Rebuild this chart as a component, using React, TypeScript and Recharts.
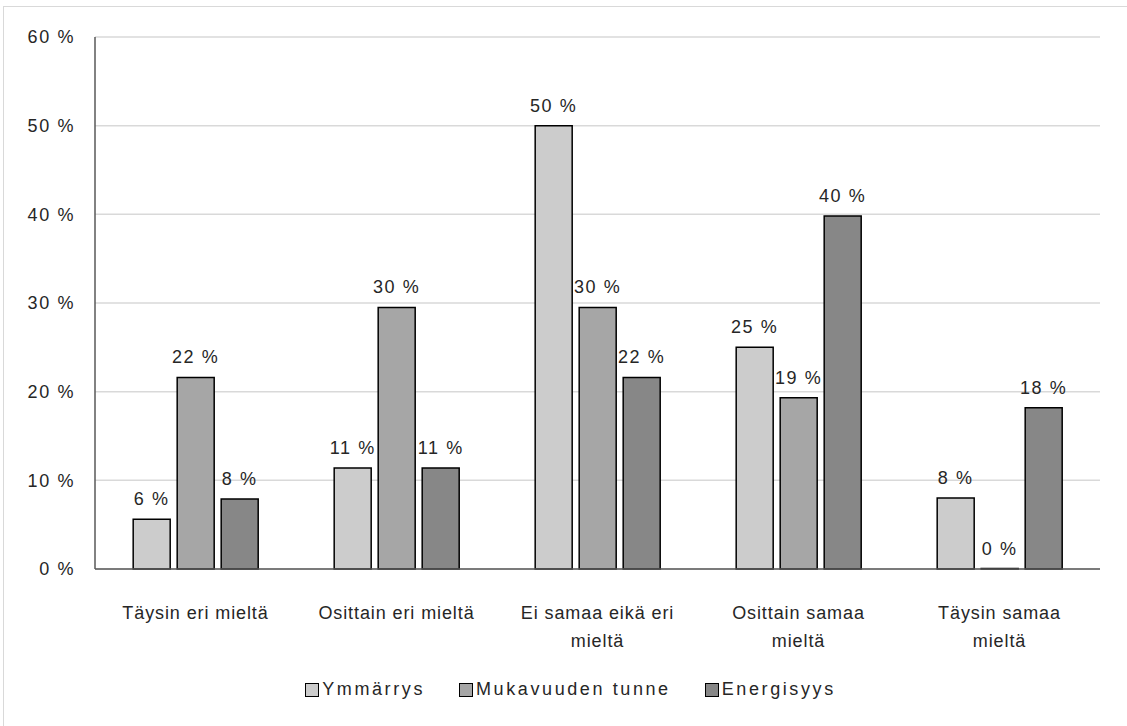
import React from "react";
import { BarChart, Bar, XAxis, YAxis, CartesianGrid, Legend, LabelList } from "recharts";

const categories = [
  ["Täysin eri mieltä"],
  ["Osittain eri mieltä"],
  ["Ei samaa eikä eri", "mieltä"],
  ["Osittain samaa", "mieltä"],
  ["Täysin samaa", "mieltä"],
];
const ymmarrys = [5.6, 11.4, 50, 25, 8];
const mukavuus = [21.6, 29.5, 29.5, 19.3, 0];
const energisyys = [7.9, 11.4, 21.6, 39.8, 18.2];
const yTicks = [0, 10, 20, 30, 40, 50, 60];

const series = [
  { key: "ymmarrys", name: "Ymmärrys", color: "#cccccc" },
  { key: "mukavuus", name: "Mukavuuden tunne", color: "#a6a6a6" },
  { key: "energisyys", name: "Energisyys", color: "#878787" },
];

const data = categories.map((lines, i) => ({
  cat: i,
  ymmarrys: ymmarrys[i],
  mukavuus: mukavuus[i],
  energisyys: energisyys[i],
}));

const font = "'Liberation Sans', Arial, sans-serif";
const textColor = "#262626";
const pct = (v: number) => `${Math.round(v)} %`;

function CatTick(props: any) {
  const { x, y, payload } = props;
  const lines = categories[payload.value] || [];
  return (
    <g>
      {lines.map((l, i) => (
        <text
          key={i}
          x={x}
          y={y + 36 + i * 28}
          textAnchor="middle"
          dominantBaseline="central"
          fontSize={18}
          letterSpacing={0.9}
          fontFamily={font}
          fill={textColor}
        >
          {l}
        </text>
      ))}
    </g>
  );
}

function LegendContent() {
  return (
    <div
      style={{
        display: "flex",
        justifyContent: "center",
        alignItems: "center",
        paddingTop: 30,
        paddingLeft: 37,
        fontFamily: font,
        fontSize: 18,
        letterSpacing: 2.6,
        color: textColor,
      }}
    >
      {series.map((s) => (
        <div key={s.key} style={{ display: "flex", alignItems: "center", margin: "0 17px" }}>
          <span
            style={{
              display: "inline-block",
              width: 12,
              height: 12,
              background: s.color,
              border: "1.5px solid #000",
              marginRight: 3,
            }}
          />
          <span>{s.name}</span>
        </div>
      ))}
    </div>
  );
}

export default function App() {
  return (
    <div
      style={{
        position: "absolute",
        left: 3,
        top: 6,
        width: 1136,
        height: 730,
        boxSizing: "border-box",
        border: "1.5px solid #d9d9d9",
        background: "#fff",
      }}
    >
      <BarChart
        width={1133}
        height={727}
        data={data}
        margin={{ top: 30, right: 37, left: 0, bottom: 0 }}
        barCategoryGap="19%"
        barGap={7}
      >
        <CartesianGrid vertical={false} stroke="#d9d9d9" strokeWidth={1.5} />
        <XAxis
          dataKey="cat"
          height={80}
          tick={<CatTick />}
          tickLine={false}
          axisLine={{ stroke: "#595959", strokeWidth: 1.5 }}
          interval={0}
        />
        <YAxis
          width={91}
          domain={[0, 60]}
          ticks={yTicks}
          tickFormatter={pct}
          tickLine={false}
          tickSize={0}
          tickMargin={20}
          axisLine={{ stroke: "#595959", strokeWidth: 1.5 }}
          tick={{ fontSize: 18, fontFamily: font, fill: textColor, letterSpacing: 1.6 }}
        />
        <Legend verticalAlign="bottom" height={85} content={<LegendContent />} />
        {series.map((s) => (
          <Bar
            key={s.key}
            dataKey={s.key}
            name={s.name}
            fill={s.color}
            stroke="#000"
            strokeWidth={1.5}
            minPointSize={(v: number) => (v === 0 ? 0.5 : 0)}
            isAnimationActive={false}
          >
            <LabelList
              dataKey={(d: any) => pct(d[s.key])}
              position="top"
              offset={14}
              style={{ fontSize: 18, fontFamily: font, fill: textColor, letterSpacing: 1.6 }}
            />
          </Bar>
        ))}
      </BarChart>
    </div>
  );
}
